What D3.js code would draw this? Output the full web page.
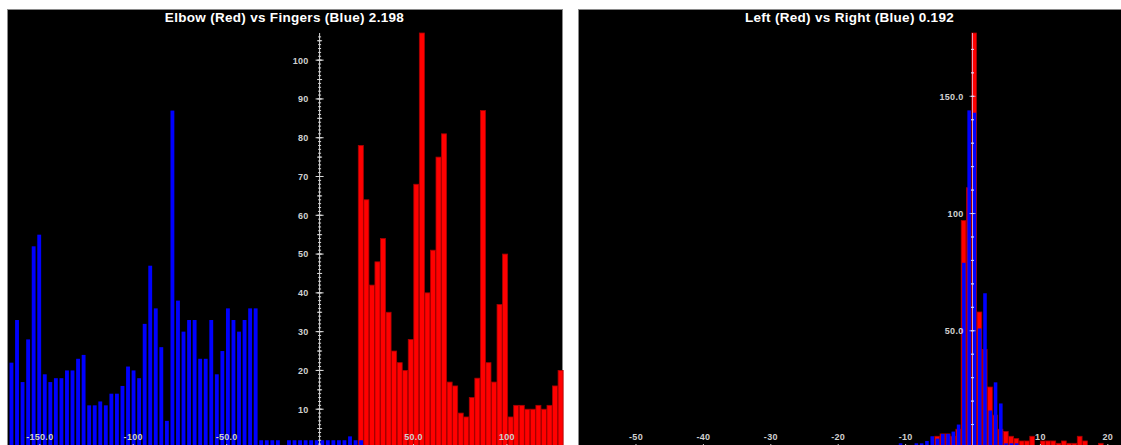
<!DOCTYPE html>
<html>
<head>
<meta charset="utf-8">
<title>Histograms</title>
<script src="https://d3js.org/d3.v7.min.js"></script>
<style>
  body { margin: 0; background: #fff; }
  text { font-family: "Liberation Sans", Arial, sans-serif; }
</style>
</head>
<body>
<svg id="chart" width="1121" height="445"></svg>
<script>
// ---- Elbow (Red) vs Fingers (Blue) ----
var elbowTitle = "Elbow (Red) vs Fingers (Blue) 2.198";
var elbowBinStart = -166.67, elbowBinWidth = 2.97;
var fingersFirstBin = 0;
var fingersCounts = [22,33,17,28,52,55,19,17,18,18,20,20,23,24,11,11,12,11,14,14,
                     16,21,20,18,32,47,36,26,7,87,38,30,33,33,23,23,33,19,25,36,
                     33,30,33,36,36,2,2,2,2,0,2,2,2,2,2,2,2,2,2,2,2,3,2,2];
var elbowFirstBin = 63;
var elbowCounts = [78,64,42,48,54,35,25,22,20,28,68,107,40,51,75,81,17,16,9,8,
                   13,18,87,22,17,37,50,8,11,11,10,10,11,10,11,16,20];
var elbowXTicks = [-150, -100, -50, 50, 100];
var elbowXLabels = ["-150.0", "-100", "-50.0", "50.0", "100"];
var elbowYTicks = [10,20,30,40,50,60,70,80,90,100];
var elbowYLabels = ["10","20","30","40","50","60","70","80","90","100"];

// ---- Left (Red) vs Right (Blue) ----
var sideTitle = "Left (Red) vs Right (Blue) 0.192";
var sideBinStart = -11.15, sideBinWidth = 0.783;
var rightFirstBin = 0;
var rightCounts = [2,0,0,2,2,3,5,4,6,6,7,10,79,144,143,51,66,16,28,19,2,2,2,1,1];
var leftFirstBin = 7;
var leftCounts = [5,6,6,5,8,97,111,177,58,42,26,14,8,7,5,4,3,3,5,1,
                  3,3,3,2,3,2,2,5,3,1,1,2,1];
var sideXTicks = [-50, -40, -30, -20, -10, 10, 20];
var sideXLabels = ["-50", "-40", "-30", "-20", "-10", "10", "20"];
var sideYTicks = [50, 100, 150];
var sideYLabels = ["50.0", "100", "150.0"];

var svg = d3.select("#chart");
var baseY = 448, topY = 33;

function bins(first, counts, start, w) {
  return counts.map(function(n, i) {
    var x0 = start + (first + i) * w;
    return {x0: x0, x1: x0 + w, n: n};
  });
}

function drawPanel(p) {
  var g = svg.append("g");
  g.append("rect")
    .attr("x", p.left + 0.5).attr("y", 9.5)
    .attr("width", p.right - p.left).attr("height", 460)
    .attr("fill", "#000").attr("stroke", "#8a8a8a");

  var x = d3.scaleLinear().domain(p.domain).range([p.left, p.right]);
  var red = bins(p.redFirst, p.red, p.binStart, p.binWidth);
  var blue = bins(p.blueFirst, p.blue, p.binStart, p.binWidth);
  var ymax = d3.max(red.concat(blue), d => d.n);
  var y = d3.scaleLinear().domain([0, ymax]).range([baseY, topY]);

  g.selectAll("rect.red").data(red).enter().append("rect")
    .attr("class", "red")
    .attr("x", d => x(d.x0) + 0.5)
    .attr("width", d => x(d.x1) - x(d.x0) - 0.5)
    .attr("y", d => y(d.n))
    .attr("height", d => y(0) - y(d.n))
    .attr("fill", "#ff0000").attr("stroke", "#a80000").attr("stroke-width", 0.8);

  g.selectAll("rect.blue").data(blue.filter(d => d.n > 0)).enter().append("rect")
    .attr("class", "blue")
    .attr("x", d => x(d.x0) + 1.4)
    .attr("width", d => x(d.x1) - x(d.x0) - 1.7)
    .attr("y", d => y(d.n))
    .attr("height", d => y(0) - y(d.n))
    .attr("fill", "#0000ff");

  // x axis, labels sit inside the plot above the baseline
  var ax = d3.axisTop(x).tickValues(p.xTicks)
    .tickFormat((d, i) => p.xLabels[i]).tickSize(4).tickPadding(4);
  var gx = g.append("g").attr("transform", "translate(0," + baseY + ")").call(ax);
  gx.select(".domain").remove();
  gx.selectAll("line").attr("stroke", "#cfcfcf");
  gx.selectAll("text").attr("fill", "#d0d0d0").attr("font-size", 9)
    .attr("font-weight", "bold").attr("letter-spacing", 0.3);

  // y axis at x = 0
  var x0 = x(0);
  var gy = g.append("g").attr("transform", "translate(" + x0 + ",0)");
  gy.append("line").attr("x1", 0).attr("x2", 0).attr("y1", baseY).attr("y2", y(ymax))
    .attr("stroke", p.axisColor).attr("stroke-width", 1);
  var minor = d3.range(p.minorStep, ymax, p.minorStep);
  var mid = d3.range(p.midStep, ymax, p.midStep);
  [[minor, p.minorLen], [mid, p.midLen], [p.yTicks, p.majorLen]].forEach(function(t) {
    gy.selectAll(null).data(t[0]).enter().append("line")
      .attr("x1", -t[1]).attr("x2", t[1])
      .attr("y1", d => y(d)).attr("y2", d => y(d))
      .attr("stroke", p.axisColor).attr("stroke-width", 1);
  });
  var ayl = d3.axisLeft(y).tickValues(p.yTicks)
    .tickFormat((d, i) => p.yLabels[i]).tickSize(0).tickPadding(p.labelPad);
  var gyl = gy.append("g").call(ayl);
  gyl.select(".domain").remove();
  gyl.selectAll("text").attr("fill", "#d0d0d0").attr("font-size", 9)
    .attr("font-weight", "bold").attr("letter-spacing", 0.3);

  svg.append("text")
    .attr("x", (p.left + p.right) / 2).attr("y", 22)
    .attr("text-anchor", "middle")
    .attr("fill", "#fff").attr("font-size", 13.5).attr("font-weight", "bold")
    .attr("letter-spacing", 0.3)
    .text(p.title);
}

drawPanel({
  left: 7, right: 562, domain: [-167.28, 129.72],
  title: elbowTitle, binStart: elbowBinStart, binWidth: elbowBinWidth,
  red: elbowCounts, redFirst: elbowFirstBin,
  blue: fingersCounts, blueFirst: fingersFirstBin,
  xTicks: elbowXTicks, xLabels: elbowXLabels,
  yTicks: elbowYTicks, yLabels: elbowYLabels,
  minorStep: 1, minorLen: 1.5, midStep: 5, midLen: 2.5, majorLen: 4,
  labelPad: 11, axisColor: "#d8d8d8"
});

drawPanel({
  left: 578, right: 1121, domain: [-58.53, 22.03],
  title: sideTitle, binStart: sideBinStart, binWidth: sideBinWidth,
  red: leftCounts, redFirst: leftFirstBin,
  blue: rightCounts, blueFirst: rightFirstBin,
  xTicks: sideXTicks, xLabels: sideXLabels,
  yTicks: sideYTicks, yLabels: sideYLabels,
  minorStep: 10, minorLen: 1.5, midStep: 10, midLen: 1.5, majorLen: 3,
  labelPad: 9, axisColor: "rgba(220,220,255,0.7)"
});
</script>
</body>
</html>
